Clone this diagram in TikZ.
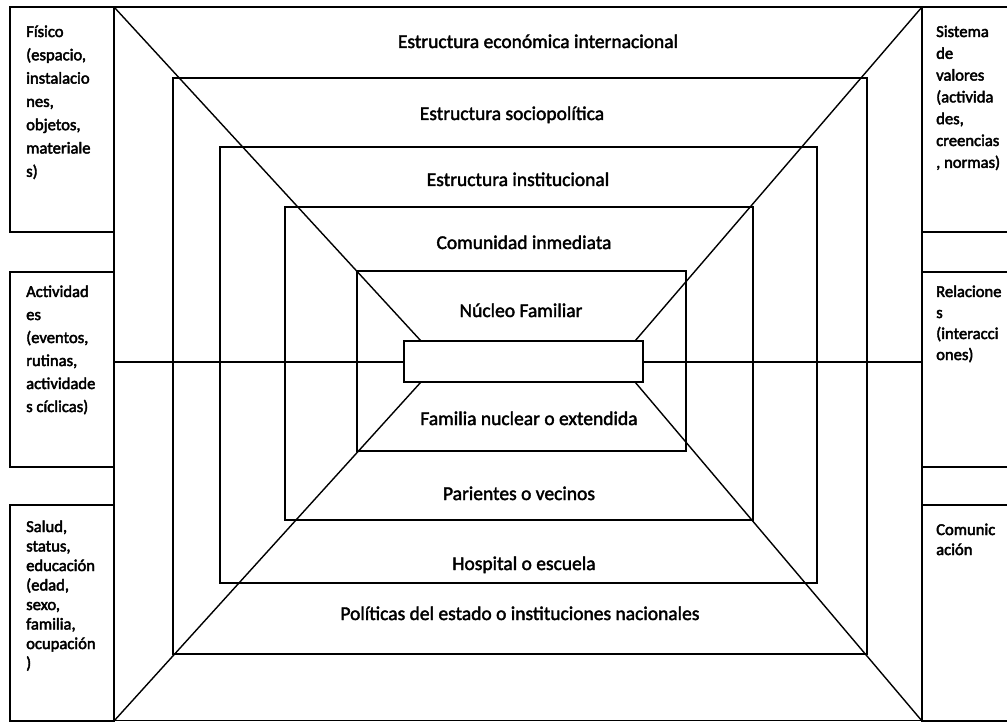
\documentclass[tikz,border=0pt]{standalone}
\usepackage{fontspec}
\setmainfont{Carlito}[FakeBold=2]
\newfontfamily\sidefont{Carlito}[FakeBold=2.6]
\newcommand\sidetxt[2]{\parbox[t]{110pt}{\raggedright\sidefont\fontsize{16.6}{#1}\selectfont #2}}
\begin{document}
\begin{tikzpicture}[x=1pt,y=-1pt,
  frame/.style={draw=black, line width=1.6pt},
  thin/.style={draw=black, line width=1.4pt},
  lvl/.style={anchor=base, inner sep=0pt, font=\fontsize{19.5}{23}\selectfont},
  side/.style={anchor=base west, inner sep=0pt}]
\useasboundingbox (0,0) rectangle (1007,722);
\begin{scope}
\clip (0,0) rectangle (1007,722);
% left side boxes
\draw[frame] (10,7) rectangle (114,232);
\draw[frame] (10,272) rectangle (114,467);
\draw[frame] (10,505) rectangle (114,721);
% right side boxes (open to the right)
\draw[frame] (1015,7) -| (922,232) -- (1015,232);
\draw[frame] (1015,272) -| (922,467) -- (1015,467);
\draw[frame] (1015,505) -| (922,721) -- (1015,721);
% nested rectangles
\draw[frame] (114,7) rectangle (922,720.5);
\draw[thin] (173,78) rectangle (867,654);
\draw[thin] (220,147) rectangle (817,583);
\draw[thin] (285,207) rectangle (753,520);
\draw[thin] (357,271) rectangle (686,451);
% horizontal axis
\coordinate (hl) at (114,362);
\coordinate (hr) at (922,362);
\draw[thin] (hl) -- (hr);
% diagonals
\coordinate (c1) at (114,7);
\coordinate (c2) at (922,7);
\coordinate (c3) at (114,721);
\coordinate (c4) at (922,721);
\coordinate (d1) at (421,341);
\coordinate (d2) at (635,341);
\coordinate (d3) at (421,382);
\coordinate (d4) at (635,382);
\draw[thin] (c1) -- (d1);
\draw[thin] (c2) -- (d2);
\draw[thin] (c3) -- (d3);
\draw[thin] (c4) -- (d4);
% centre box
\node[thin, fill=white, minimum width=239pt, minimum height=41pt, inner sep=0pt] (core) at (523.5,361.5) {};
\end{scope}
% level labels
\node[lvl] (t1) at (538,48) {Estructura económica internacional};
\node[lvl] (t2) at (512,120) {Estructura sociopolítica};
\node[lvl] (t3) at (518,186) {Estructura institucional};
\node[lvl] (t4) at (524,249) {Comunidad inmediata};
\node[lvl] (t5) at (521,317) {Núcleo Familiar};
\node[lvl] (t6) at (529,425) {Familia nuclear o extendida};
\node[lvl] (t7) at (519,500) {Parientes o vecinos};
\node[lvl] (t8) at (524,570) {Hospital o escuela};
\node[lvl] (t9) at (520,620) {Políticas del estado o instituciones nacionales};
% side labels
\node[side] (l1) at (26,37) {\sidetxt{23.3pt}{Físico\\(espacio,\\instalacio\\nes,\\objetos,\\materiale\\s)}};
\node[side] (l2) at (26,297) {\sidetxt{23pt}{Actividad\\es\\(eventos,\\rutinas,\\actividade\\s cíclicas)}};
\node[side] (l3) at (26,532) {\sidetxt{19.5pt}{Salud,\\status,\\educación\\(edad,\\sexo,\\familia,\\ocupación\\)}};
\node[side] (r1) at (936,37) {\sidetxt{21.8pt}{Sistema\\de\\valores\\(activida\\des,\\creencias\\, normas)}};
\node[side] (r2) at (936,297) {\sidetxt{21pt}{Relacione\\s\\(interacci\\ones)}};
\node[side] (r3) at (936,535) {\sidetxt{20pt}{Comunic\\ación}};
\end{tikzpicture}
\end{document}
